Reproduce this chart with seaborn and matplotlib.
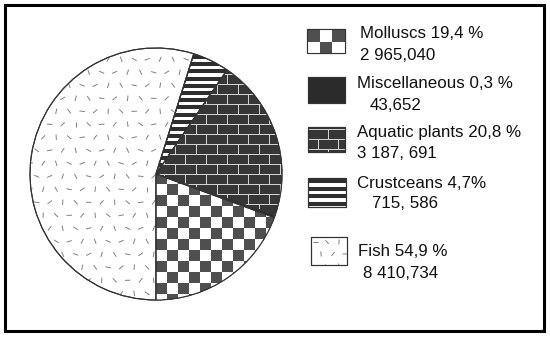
import numpy as np
import matplotlib
matplotlib.use("Agg")
import matplotlib.pyplot as plt
import seaborn as sns
from matplotlib.patches import Rectangle, PathPatch
from matplotlib.collections import LineCollection
from matplotlib.colors import ListedColormap

# ---------------- data ----------------
categories = ["Molluscs", "Miscellaneous", "Aquatic plants", "Crustceans", "Fish"]
shares = [19.4, 0.3, 20.8, 4.7, 54.9]
share_labels = ["19,4 %", "0,3 %", "20,8 %", "4,7%", "54,9 %"]
tonnes_labels = ["2 965,040", "43,652", "3 187, 691", "715, 586", "8 410,734"]

sns.set_theme(style="white")
plt.rcParams['font.family'] = ['Liberation Sans', 'DejaVu Sans']

W, H = 550, 338
fig = plt.figure(figsize=(5.5, 3.38), dpi=100)
fig.patch.set_facecolor("white")

DARK_CHECK = "#4f4f4f"
DARK_BRICK = "#363636"
DARK_MISC = "#2a2a2a"
STRIPE = "#2e2e2e"
DASH = "#808080"
EDGE = "#333333"


# ---------------- texture helpers ----------------
def add_checker(ax, clip, x0, y0, s, nx, ny, dark, phase=0, z=2):
    ii, jj = np.meshgrid(np.arange(nx), np.arange(ny))
    arr = (ii + jj + phase) % 2
    im = ax.imshow(arr, extent=[x0, x0 + nx * s, y0, y0 + ny * s], origin="lower",
                   cmap=ListedColormap(["white", dark]), interpolation="nearest",
                   aspect="auto", zorder=z)
    im.set_clip_path(clip)


def add_bricks(ax, clip, x0, x1, y0, y1, w, h, color, lw, z=2):
    segs = []
    for k, y in enumerate(np.arange(y0, y1 + h, h)):
        segs.append([(x0, y), (x1, y)])
        off = (w / 2) * (k % 2)
        for x in np.arange(x0 + off, x1 + w, w):
            segs.append([(x, y), (x, y + h)])
    lc = LineCollection(segs, colors=color, linewidths=lw, zorder=z)
    ax.add_collection(lc)
    lc.set_clip_path(clip)


def add_stripes(ax, clip, x0, x1, y0, y1, period, thick, color, z=2):
    segs = [[(x0, y), (x1, y)] for y in np.arange(y0, y1 + period, period)]
    lc = LineCollection(segs, colors=color, linewidths=thick, zorder=z,
                        capstyle="butt")
    ax.add_collection(lc)
    lc.set_clip_path(clip)


def add_dashes(ax, clip, x0, x1, y0, y1, sp, L, color, lw, z=2):
    segs = []
    for j, y in enumerate(np.arange(y0, y1 + sp, sp)):
        for i, x in enumerate(np.arange(x0 + (sp / 2) * (j % 2), x1 + sp, sp)):
            a = np.deg2rad((i * 47 + j * 83) % 180)
            dx, dy = L / 2 * np.cos(a), L / 2 * np.sin(a)
            segs.append([(x - dx, y - dy), (x + dx, y + dy)])
    lc = LineCollection(segs, colors=color, linewidths=lw, zorder=z)
    ax.add_collection(lc)
    lc.set_clip_path(clip)


# ---------------- pie ----------------
cx, cy, R = 156, 174, 126
M = 1.04
ax = fig.add_axes([(cx - R * M) / W, (H - cy - R * M) / H, 2 * R * M / W, 2 * R * M / H])
face = ["white", DARK_MISC, DARK_BRICK, "white", "white"]
wedges, _ = ax.pie(shares, startangle=270, counterclock=True, colors=face,
                   wedgeprops=dict(edgecolor=EDGE, linewidth=0.8))
u = 1.0 / R  # data units per pixel

# Molluscs: checkerboard
s = 10.9 * u
add_checker(ax, wedges[0], 0.0, -13 * s, s, 13, 13, DARK_CHECK, phase=1)
# Aquatic plants: bricks
add_bricks(ax, wedges[2], -0.1, 1.1, -0.4, 1.1, 21 * u, 10 * u, "#d8d8d8", 0.7)
# Crustaceans: horizontal stripes
add_stripes(ax, wedges[3], -0.2, 0.6, -0.1, 1.05, 7.2 * u, 2.9, STRIPE)
# Fish: scattered short dashes
add_dashes(ax, wedges[4], -1.05, 0.5, -1.05, 1.05, 13 * u, 5.5 * u, DASH, 0.7)

for w in wedges:
    ax.add_patch(PathPatch(w.get_path(), fill=False, edgecolor=EDGE,
                           linewidth=0.8, zorder=3))
ax.set_xlim(-M, M)
ax.set_ylim(-M, M)
ax.set_axis_off()

# ---------------- legend (pixel-coordinate overlay) ----------------
lg = fig.add_axes([0, 0, 1, 1], zorder=-1)
lg.set_xlim(0, W)
lg.set_ylim(H, 0)
lg.set_axis_off()

boxes = [(307, 29, 38, 24), (308, 77, 37, 26), (308, 127, 37, 25),
         (308, 178, 38, 29), (311, 237, 36, 28)]
line1 = [(360, 33), (357, 83), (357, 133), (357, 183), (358, 252)]
line2 = [(360, 55), (370, 105), (357, 153), (372, 203), (363, 273)]

for k, (bx, by, bw, bh) in enumerate(boxes):
    rect = Rectangle((bx, by), bw, bh, facecolor=face[k], edgecolor=EDGE,
                     linewidth=0.8, zorder=1)
    lg.add_patch(rect)
    if k == 0:
        add_checker(lg, rect, bx, by, 12.7, 3, 2, DARK_CHECK, phase=1)
    elif k == 2:
        add_bricks(lg, rect, bx, bx + bw, by + 2, by + bh, 20, 10, "#d8d8d8", 0.7)
    elif k == 3:
        add_stripes(lg, rect, bx, bx + bw, by + 3, by + bh, 7.5, 2.9, STRIPE)
    elif k == 4:
        add_dashes(lg, rect, bx + 4, bx + bw, by + 5, by + bh, 12, 5, DASH, 0.7)
    lg.add_patch(Rectangle((bx, by), bw, bh, fill=False, edgecolor=EDGE,
                           linewidth=0.8, zorder=4))
    lg.text(line1[k][0], line1[k][1], f"{categories[k]} {share_labels[k]}",
            ha="left", va="center", fontsize=12.2, color="#111111")
    lg.text(line2[k][0], line2[k][1], tonnes_labels[k],
            ha="left", va="center", fontsize=12.2, color="#111111")

# outer frame
lg.add_patch(Rectangle((4.5, 4.5), 539.5, 326, fill=False, edgecolor="black",
                       linewidth=2.2, zorder=5))

fig.savefig("out.png", dpi=100, facecolor="white")
